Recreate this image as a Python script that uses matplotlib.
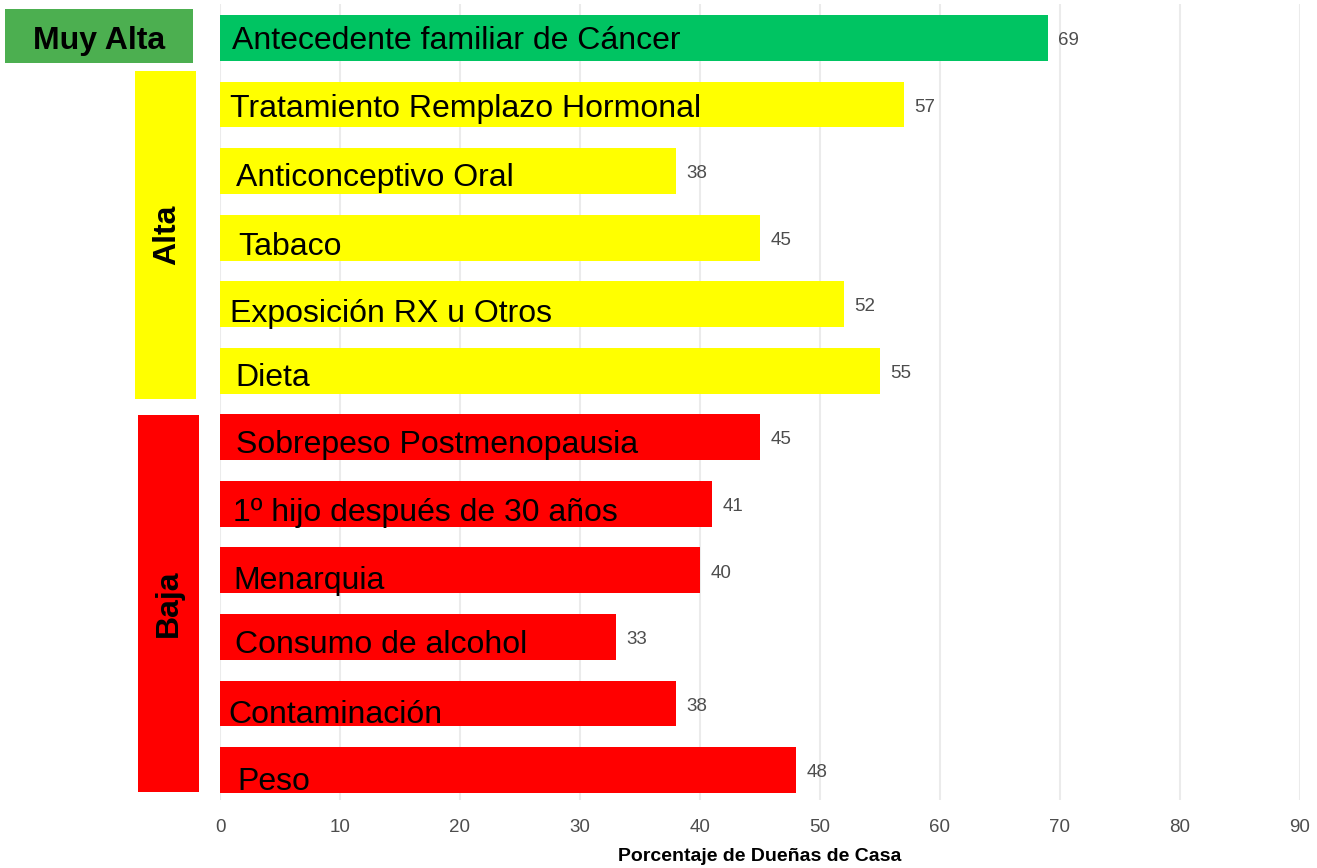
import matplotlib.pyplot as plt
from matplotlib.patches import Rectangle

plt.rcParams["font.family"] = ["Liberation Sans", "DejaVu Sans"]

# --------------------------------------------------------------
# Data (top to bottom)
# --------------------------------------------------------------

factors = [
    "Antecedente familiar de Cáncer",
    "Tratamiento Remplazo Hormonal",
    "Anticonceptivo Oral",
    "Tabaco",
    "Exposición RX u Otros",
    "Dieta",
    "Sobrepeso Postmenopausia",
    "1º hijo después de 30 años",
    "Menarquia",
    "Consumo de alcohol",
    "Contaminación",
    "Peso",
]
values = [69, 57, 38, 45, 52, 55, 45, 41, 40, 33, 38, 48]
risk = ["Muy Alta", "Alta", "Alta", "Alta", "Alta", "Alta",
        "Baja", "Baja", "Baja", "Baja", "Baja", "Baja"]

bar_colors = {"Muy Alta": "#00C462", "Alta": "#FFFF00", "Baja": "#FF0000"}
box_colors = {"Muy Alta": "#4CAF50", "Alta": "#FFFF00", "Baja": "#FF0000"}

# label placement inside bars (pixels: right of bar start, baseline below bar centre)
label_dx = [12, 10, 16, 18, 10, 15, 16, 13, 13, 15, 8, 17]
label_dy = [11.5, 12.5, 15, 17.5, 18, 15.5, 15.7, 17.5, 18.6, 16, 20, 20.4]

# --------------------------------------------------------------
# Plot
# --------------------------------------------------------------

fig = plt.figure(figsize=(13.17, 8.68), dpi=100)
ax = fig.add_axes([220 / 1317, 68 / 868, 1080 / 1317, 796 / 868])

n = len(factors)
ypos = [n - 1 - i for i in range(n)]
colors = [bar_colors[r] for r in risk]

ax.barh(ypos, values, height=0.69, color=colors, zorder=2)

px = 0.72  # points per pixel at dpi 100
for y, v, name, dx, dy in zip(ypos, values, factors, label_dx, label_dy):
    ax.text(v + 0.85, y - 0.04, str(v), va="center", ha="left", fontsize=13.5,
            color="#4d4d4d")
    ax.annotate(name, xy=(0, y), xytext=(dx * px, -dy * px),
                textcoords="offset points", va="baseline", ha="left",
                fontsize=23, color="black", zorder=3)

ax.set_xlim(0, 90)
ax.set_ylim(-0.45, n - 0.49)
ax.set_xticks(range(0, 91, 10))
ax.set_yticks([])
ax.grid(axis="x", color="#EBEBEB", linewidth=1.5, zorder=0)
for s in ax.spines.values():
    s.set_visible(False)
ax.tick_params(axis="x", length=0, labelsize=13.5, labelcolor="#4d4d4d", pad=14)
ax.set_xlabel("Porcentaje de Dueñas de Casa", fontsize=14, fontweight="bold",
              labelpad=8)

# --------------------------------------------------------------
# Risk group boxes on the left
# --------------------------------------------------------------

group_style = {
    "Muy Alta": dict(x0=-17.9, x1=-2.25, pad_top=0.43, pad_bot=0.37, rot=0, tx=0, ty=-0.07),
    "Alta": dict(x0=-7.08, x1=-2.0, pad_top=0.51, pad_bot=0.42, rot=90, tx=0.1, ty=0),
    "Baja": dict(x0=-6.83, x1=-1.75, pad_top=0.33, pad_bot=0.33, rot=90, tx=0, ty=0),
}

for group in ["Muy Alta", "Alta", "Baja"]:
    ys = [y for y, r in zip(ypos, risk) if r == group]
    st = group_style[group]
    top = max(ys) + st["pad_top"]
    bot = min(ys) - st["pad_bot"]
    rect = Rectangle((st["x0"], bot), st["x1"] - st["x0"], top - bot,
                     facecolor=box_colors[group], edgecolor="none",
                     clip_on=False)
    ax.add_patch(rect)
    ax.text((st["x0"] + st["x1"]) / 2 + st["tx"], (top + bot) / 2 + st["ty"], group,
            rotation=st["rot"], ha="center", va="center",
            fontsize=23, fontweight="bold", color="black", clip_on=False)

plt.savefig("out.png", dpi=100)
